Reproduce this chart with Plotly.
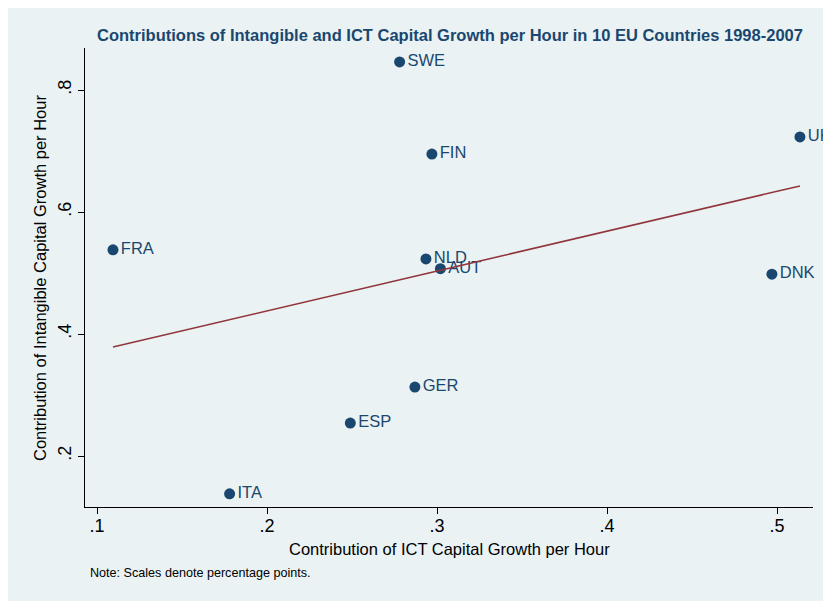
import numpy as np
import plotly.graph_objects as go

countries = ["SWE", "FIN", "UK", "FRA", "NLD", "AUT", "DNK", "GER", "ESP", "ITA"]
ict = [0.278, 0.297, 0.5135, 0.1094, 0.2935, 0.302, 0.497, 0.287, 0.249, 0.178]
intangible = [0.846, 0.695, 0.723, 0.538, 0.523, 0.507, 0.498, 0.313, 0.254, 0.138]

x_ticks = [0.1, 0.2, 0.3, 0.4, 0.5]
x_ticklabels = [".1", ".2", ".3", ".4", ".5"]
y_ticks = [0.2, 0.4, 0.6, 0.8]
y_ticklabels = [".2", ".4", ".6", ".8"]

navy = "#1a476f"
maroon = "#90353b"
bg = "#eaf2f3"
font = "Liberation Sans, Arial, sans-serif"

slope, intercept = np.polyfit(ict, intangible, 1)
xfit = np.array([min(ict), max(ict)])
yfit = slope * xfit + intercept

fig = go.Figure()
fig.add_trace(go.Scatter(
    x=ict, y=intangible, mode="markers+text", text=countries,
    textposition="middle right", cliponaxis=False,
    marker=dict(color=navy, size=11, line=dict(width=0)),
    textfont=dict(color=navy, size=16.5, family=font),
    showlegend=False,
))
fig.add_trace(go.Scatter(
    x=xfit, y=yfit, mode="lines", line=dict(color=maroon, width=1.5),
    showlegend=False,
))

OFF = 8  # page body margin
W, H = 831, 602
L, R, T, B = 85 - OFF, 813 - OFF, 48 - OFF, 507 - OFF
pw, ph = R - L, B - T

def px2x(p):
    return (p - OFF - L) / pw

def py2y(p):
    return (B - (p - OFF)) / ph

fig.update_layout(
    width=W, height=H,
    margin=dict(l=L, r=W - R, t=T, b=H - B),
    paper_bgcolor="white",
    plot_bgcolor="white",
    font=dict(family=font, color="black"),
    shapes=[dict(type="rect", xref="paper", yref="paper",
                 x0=px2x(8), x1=px2x(850), y0=py2y(601), y1=py2y(8),
                 fillcolor=bg, line=dict(width=0), layer="below")],
    annotations=[
        dict(text="<b>Contributions of Intangible and ICT Capital Growth per Hour in 10 EU Countries 1998-2007</b>",
             xref="paper", yref="paper", x=px2x(450), y=py2y(35),
             xanchor="center", yanchor="middle", showarrow=False,
             font=dict(size=16.5, color=navy, family=font)),
        dict(text="Contribution of ICT Capital Growth per Hour",
             xref="paper", yref="paper", x=px2x(449), y=py2y(549),
             xanchor="center", yanchor="middle", showarrow=False,
             font=dict(size=16.5, color="black", family=font)),
        dict(text="Contribution of Intangible Capital Growth per Hour",
             xref="paper", yref="paper", x=px2x(40), y=py2y(278),
             xanchor="center", yanchor="middle", showarrow=False, textangle=-90,
             font=dict(size=16.5, color="black", family=font)),
        dict(text="Note: Scales denote percentage points.",
             xref="paper", yref="paper", x=px2x(88), y=py2y(573),
             xanchor="left", yanchor="middle", showarrow=False,
             font=dict(size=12.6, color="black", family=font)),
    ],
    xaxis=dict(
        range=[0.1 - (97 - 85) / 1700, 0.1 + (813 - 97) / 1700],
        tickvals=x_ticks, ticktext=x_ticklabels,
        ticks="outside", ticklen=6, tickcolor="black", tickwidth=1,
        ticklabelstandoff=-4,
        tickfont=dict(size=18, color="black"),
        showgrid=False, zeroline=False,
        showline=True, linecolor="black", linewidth=1,
    ),
    yaxis=dict(
        range=[0.2 - (507 - 456) / 610, 0.8 + (90 - 48) / 610],
        tickvals=y_ticks, ticktext=y_ticklabels, tickangle=-90,
        ticks="outside", ticklen=6, tickcolor="black", tickwidth=1,
        tickfont=dict(size=18, color="black"),
        showgrid=True, gridcolor=bg, gridwidth=1.5, zeroline=False,
        showline=True, linecolor="black", linewidth=1,
    ),
)

fig.write_html("out.html")
